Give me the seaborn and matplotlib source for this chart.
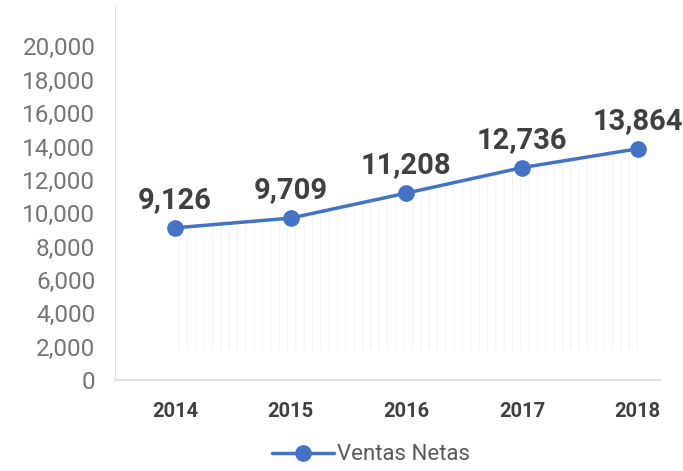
import pandas as pd
import matplotlib.pyplot as plt
import seaborn as sns

# Chart data
years = ["2014", "2015", "2016", "2017", "2018"]
ventas = [9126, 9709, 11208, 12736, 13864]
serie = "Ventas Netas"

df = pd.DataFrame({"Year": years, "Ventas": ventas})
df["pos"] = range(len(df))

sns.set_style("white")
plt.rcParams["font.family"] = ["Roboto", "DejaVu Sans"]
plt.rcParams["hatch.linewidth"] = 0.6

blue = "#4472C4"
fig = plt.figure(figsize=(6.83, 4.71), dpi=100)
ax = fig.add_axes([0.168, 0.193, 0.798, 0.797])

# faint vertical stripes under the line
ax.fill_between(df["pos"], 1800, df["Ventas"], facecolor="none",
                edgecolor="#f0f0f0", hatch="||", linewidth=0, zorder=1)

sns.lineplot(data=df, x="pos", y="Ventas", ax=ax, color=blue, linewidth=2.5,
             marker="o", markersize=12, markeredgewidth=0, label=serie,
             zorder=3)

for x, y in zip(df["pos"], df["Ventas"]):
    ax.annotate(f"{y:,}", (x, y), xytext=(0, 10), textcoords="offset points",
                ha="center", va="bottom", fontsize=21, fontweight="bold",
                color="#404040")

ax.set_xlim(-0.52, 4.19)
ax.set_ylim(0, 22500)
ax.set_yticks(range(0, 20001, 2000))
ax.set_yticklabels([f"{v:,}" for v in range(0, 20001, 2000)],
                   fontsize=17.5, color="#757575")
ax.set_xticks(df["pos"])
ax.set_xticklabels(years, fontsize=14.5, fontweight="bold", color="#404040")
ax.tick_params(axis="x", length=9, color="#d9d9d9", width=1, pad=7, direction="out")
ax.tick_params(axis="y", length=0, pad=14)
ax.set_xlabel("")
ax.set_ylabel("")

for s in ["top", "right"]:
    ax.spines[s].set_visible(False)
ax.spines["left"].set_color("#e0e0e0")
ax.spines["bottom"].set_color("#d9d9d9")
ax.spines["bottom"].set_linewidth(1.2)

leg = ax.legend(loc="upper center", bbox_to_anchor=(0.47, -0.13), frameon=False,
                fontsize=16, handlelength=2.8, handletextpad=0.1,
                borderpad=0.2)
for t in leg.get_texts():
    t.set_color("#595959")

fig.savefig("out.png", dpi=100)
